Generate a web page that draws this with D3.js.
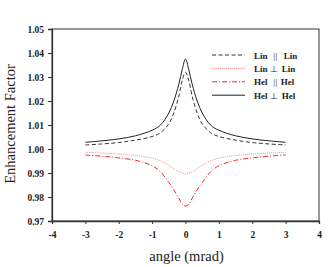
<!DOCTYPE html>
<html>
<head>
<meta charset="utf-8">
<script src="https://cdn.jsdelivr.net/npm/d3@7"></script>
<style>
body { margin: 0; background: #fff; }
text { font-family: "Liberation Serif", "Times New Roman", serif; }
</style>
</head>
<body>
<div id="chart"></div>
<script>
var margin = { top: 29, right: 15, bottom: 46, left: 52 },
    width = 334 - margin.left - margin.right,
    height = 267 - margin.top - margin.bottom;

// data
var angles = [-3, -2.5, -2, -1.5, -1, -0.75, -0.5, -0.35, -0.2, -0.1, 0, 0.1, 0.2, 0.35, 0.5, 0.75, 1, 1.5, 2, 2.5, 3];
var linPar = [1.0017, 1.0021, 1.0027, 1.0037, 1.0052, 1.0068, 1.0105, 1.0150, 1.0220, 1.0285, 1.0320,
              1.0285, 1.0220, 1.0150, 1.0105, 1.0068, 1.0052, 1.0037, 1.0027, 1.0021, 1.0017];
var linPerp = [0.9986, 0.9983, 0.9979, 0.9973, 0.9962, 0.9950, 0.9932, 0.9918, 0.9905, 0.9899, 0.9896,
               0.9899, 0.9905, 0.9918, 0.9932, 0.9950, 0.9962, 0.9973, 0.9979, 0.9983, 0.9986];
var helPar = [0.9975, 0.9970, 0.9963, 0.9953, 0.9930, 0.9905, 0.9860, 0.9830, 0.9795, 0.9770, 0.9762,
              0.9770, 0.9795, 0.9830, 0.9860, 0.9905, 0.9930, 0.9953, 0.9963, 0.9970, 0.9975];
var helPerp = [1.0028, 1.0034, 1.0042, 1.0055, 1.0078, 1.0100, 1.0150, 1.0200, 1.0270, 1.0330, 1.0375,
               1.0330, 1.0270, 1.0200, 1.0150, 1.0100, 1.0078, 1.0055, 1.0042, 1.0034, 1.0028];
var xTicks = [-4, -3, -2, -1, 0, 1, 2, 3, 4];
var yTicks = [0.97, 0.98, 0.99, 1.00, 1.01, 1.02, 1.03, 1.04, 1.05];

// legend label split in [left, symbol, right]
var series = [
    { name: ["Lin", "  ||  ", "Lin"], values: linPar, color: "#333", dash: "4,2.5", w: 1 },
    { name: ["Lin", " \u22a5 ", "Lin"], values: linPerp, color: "#ff8c8c", dash: "1,1", w: 1 },
    { name: ["Hel", "  || ", "Hel"], values: helPar, color: "#ee2a2a", dash: "5,2,1,2", w: 1 },
    { name: ["Hel", " \u22a5 ", "Hel"], values: helPerp, color: "#222", dash: null, w: 1 }
];

var svg = d3.select("#chart")
    .append("svg")
    .attr("width", width + margin.left + margin.right)
    .attr("height", height + margin.top + margin.bottom)
    .append("g")
    .attr("transform", "translate(" + margin.left + "," + margin.top + ")");

var x = d3.scaleLinear().domain([-4, 4]).range([0, width]);
var y = d3.scaleLinear().domain([0.97, 1.05]).range([height, 0]);

// frame
svg.append("rect")
    .attr("width", width)
    .attr("height", height)
    .attr("fill", "none")
    .attr("stroke", "#333")
    .attr("stroke-width", 1);

var xAxis = svg.append("g")
    .attr("transform", "translate(0," + height + ")")
    .call(d3.axisBottom(x).tickValues(xTicks).tickSize(3).tickPadding(7)
        .tickFormat(function (d) { return String(d); }));
var yAxis = svg.append("g")
    .call(d3.axisLeft(y).tickValues(yTicks).tickSize(4).tickPadding(4).tickFormat(d3.format(".2f")));

[xAxis, yAxis].forEach(function (a) {
    a.select(".domain").attr("stroke", "#333").attr("stroke-width", 1.3);
    a.selectAll(".tick line").attr("stroke", "#333");
    a.selectAll("text")
        .attr("fill", "#222")
        .style("font-size", "9.5px")
        .style("font-weight", "bold")
        .style("font-family", "'Liberation Serif', serif");
});

var line = d3.line()
    .curve(d3.curveCatmullRom)
    .x(function (d, i) { return x(angles[i]); })
    .y(function (d) { return y(d); });

series.forEach(function (s) {
    svg.append("path")
        .datum(s.values)
        .attr("fill", "none")
        .attr("stroke", s.color)
        .attr("stroke-width", s.w)
        .attr("stroke-dasharray", s.dash)
        .attr("d", line);
});

// legend
var legend = svg.append("g")
    .attr("transform", "translate(" + (212 - margin.left) + "," + (55 - margin.top) + ")");
series.forEach(function (s, i) {
    var g = legend.append("g").attr("transform", "translate(0," + (i * 13.4) + ")");
    g.append("line")
        .attr("x1", 0).attr("x2", 33)
        .attr("stroke", s.color)
        .attr("stroke-width", s.w)
        .attr("stroke-dasharray", s.dash);
    var t = g.append("text")
        .attr("x", 42)
        .attr("y", 3.5)
        .attr("fill", "#222")
        .style("font-size", "9px")
        .style("white-space", "pre");
    t.append("tspan").style("font-weight", "bold").text(s.name[0]);
    t.append("tspan").style("letter-spacing", "0.6px").text(s.name[1]);
    t.append("tspan").style("font-weight", "bold").text(s.name[2]);
});

// axis titles
svg.append("text")
    .attr("x", width / 2 + 1)
    .attr("y", height + 40)
    .attr("text-anchor", "middle")
    .attr("fill", "#222")
    .style("font-size", "14.5px")
    .text("angle (mrad)");

svg.append("text")
    .attr("transform", "translate(" + (-37) + "," + (height / 2 - 1) + ") rotate(-90)")
    .attr("text-anchor", "middle")
    .attr("fill", "#222")
    .style("font-size", "14.5px")
    .text("Enhancement Factor");
</script>
</body>
</html>
